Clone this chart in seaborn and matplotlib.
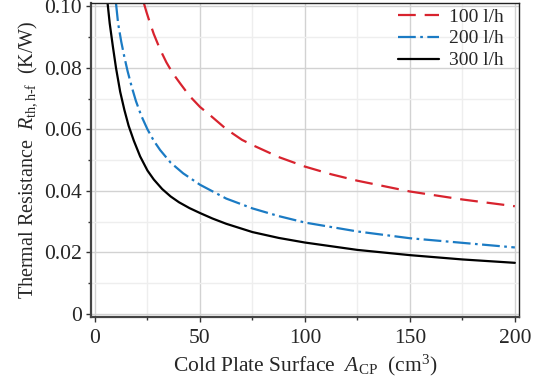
import numpy as np
import pandas as pd
import matplotlib
matplotlib.use('Agg')
import matplotlib.pyplot as plt
from matplotlib.ticker import MultipleLocator, FuncFormatter
import seaborn as sns

# 数据
x_100 = [23.3, 24.5, 26, 28, 31, 34, 37, 40.5, 45, 50, 55, 62.5, 70, 75, 87.5, 100, 112.5, 125, 150, 175, 200]
r_100 = [0.101, 0.0982, 0.0950, 0.0910, 0.0860, 0.0818, 0.0783, 0.0750, 0.0709, 0.0673, 0.0645, 0.0601,
         0.0566, 0.0549, 0.0510, 0.0479, 0.0454, 0.0433, 0.0398, 0.0372, 0.0350]

x_200 = [10, 11, 12.5, 14, 15.5, 17.5, 19.5, 22, 25, 28, 31, 36, 42, 50, 62.5, 75, 87.5, 100, 125, 150, 175, 200]
r_200 = [0.101, 0.0945, 0.0885, 0.0835, 0.0790, 0.0738, 0.0692, 0.0645, 0.0600, 0.0563, 0.0533, 0.0492,
         0.0457, 0.0420, 0.0375, 0.0343, 0.0318, 0.0297, 0.0268, 0.0246, 0.0231, 0.0216]

x_300 = [6, 7, 8.5, 10, 12, 14, 16, 18.5, 21.5, 25, 28, 32, 36, 40, 45, 50, 56, 62.5, 75, 87.5, 100, 125, 150, 175, 200]
r_300 = [0.101, 0.0945, 0.087, 0.080, 0.0722, 0.0663, 0.0612, 0.0563, 0.0512, 0.0466, 0.0437, 0.0406,
         0.0382, 0.0363, 0.0344, 0.0328, 0.0310, 0.0293, 0.0266, 0.0247, 0.0232, 0.0208, 0.0191, 0.0177, 0.0166]

labels = ['100 l/h', '200 l/h', '300 l/h']
colors = ['#d8232e', '#1b7bc4', '#000000']
dashes = [(8, 4), (8, 2, 1.2, 2), '']

sns.set_style('whitegrid')
plt.rcParams['font.family'] = ['Liberation Serif', 'DejaVu Serif']
plt.rcParams['mathtext.fontset'] = 'custom'
plt.rcParams['mathtext.rm'] = 'Liberation Serif'
plt.rcParams['mathtext.it'] = 'Liberation Serif:italic'
plt.rcParams['mathtext.bf'] = 'Liberation Serif:bold'

fig, ax = plt.subplots(figsize=(5.45, 3.87), dpi=100)
fig.subplots_adjust(left=0.167, right=0.952, bottom=0.181, top=0.9915)

series = [(x_100, r_100), (x_200, r_200), (x_300, r_300)]
for (xs, ys), lab, c, d in zip(series, labels, colors, dashes):
    df = pd.DataFrame({'A': xs, 'R': ys})
    sns.lineplot(data=df, x='A', y='R', ax=ax, color=c, lw=1.6, label=lab, sort=False)
    if d:
        ax.lines[-1].set_dashes(d)

ax.set_xlim(-1.9, 201.9)
ax.set_ylim(-0.001, 0.101)

ax.xaxis.set_major_locator(MultipleLocator(50))
ax.xaxis.set_minor_locator(MultipleLocator(25))
ax.yaxis.set_major_locator(MultipleLocator(0.02))
ax.yaxis.set_minor_locator(MultipleLocator(0.01))
ax.yaxis.set_major_formatter(FuncFormatter(lambda v, p: '0' if abs(v) < 1e-9 else '%.2f' % v))

ax.grid(which='major', color='#d2d2d2', lw=1.0)
ax.grid(which='minor', color='#eeeeee', lw=1.0)
ax.set_axisbelow(True)

ax.tick_params(which='major', direction='out', length=3.5, width=1, color='#333333',
               labelsize=15.5, left=True, bottom=True)
ax.tick_params(axis='x', which='major', pad=5.5)
ax.tick_params(axis='y', which='major', pad=3)
ax.tick_params(which='minor', direction='out', length=2.5, width=1, color='#333333',
               left=True, bottom=True)

for s in ['left', 'bottom']:
    ax.spines[s].set_color('#444444')
    ax.spines[s].set_linewidth(1.6)
for s in ['top', 'right']:
    ax.spines[s].set_color('#222222')
    ax.spines[s].set_linewidth(1.0)

ax.set_xlabel(r'Cold Plate Surface  $A_{\mathrm{CP}}$  (cm$^3$)', fontsize=15.5, labelpad=3)
ax.set_ylabel(r'Thermal Resistance  $R_{\mathrm{th,h\text{-}f}}$  (K/W)', fontsize=14.5, labelpad=4)

ax.legend(loc='upper right', bbox_to_anchor=(0.984, 1.01), frameon=False, fontsize=14,
          handlelength=2.1, handletextpad=0.55, labelspacing=0.22, borderaxespad=0.1, borderpad=0.3)

plt.savefig('out.png', dpi=100)
